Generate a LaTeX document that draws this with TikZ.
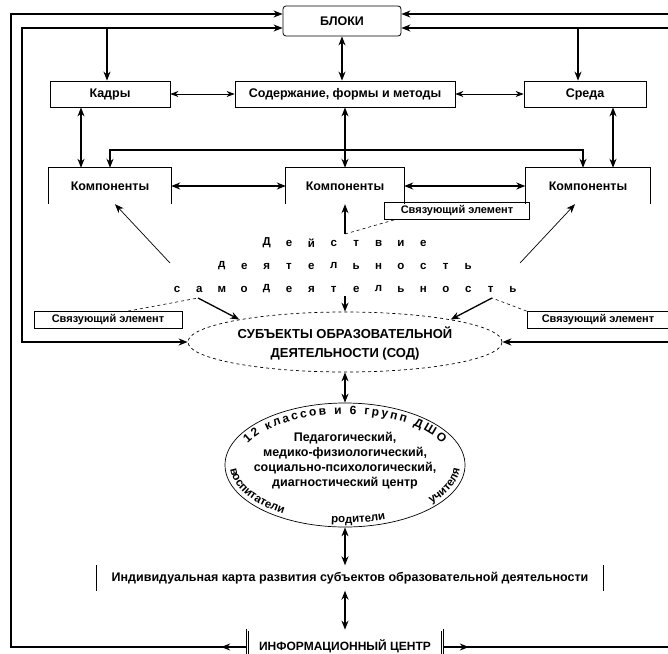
\documentclass[tikz,border=0pt]{standalone}
\usepackage{fontspec}
\setmainfont{Liberation Sans}
\usetikzlibrary{arrows.meta,shapes.geometric,decorations.text}
\tikzset{
  kbox/.style={draw, line width=0.8pt, align=center, inner sep=0pt, minimum height=26pt, font=\bfseries\fontsize{12.5}{14}\selectfont},
  kblock/.style={kbox, rounded corners=3pt, minimum height=30pt},
  kcomp/.style={align=center, inner sep=0pt, minimum height=36pt, font=\bfseries\fontsize{12.5}{14}\selectfont},
  klink/.style={kbox, minimum height=17pt, font=\bfseries\fontsize{11}{13}\selectfont},
  kletter/.style={inner sep=0pt, font=\bfseries\fontsize{11.5}{13}\selectfont},
  ksubj/.style={ellipse, draw, dashed, line width=0.7pt, inner sep=0pt, minimum width=314pt, minimum height=60pt},
  kcentre/.style={ellipse, draw, line width=0.7pt, inner sep=0pt, minimum width=240pt, minimum height=124pt},
  ktitle/.style={align=center, inner sep=0pt, font=\bfseries\fontsize{13}{19}\selectfont},
  ktext/.style={align=center, inner sep=0pt, font=\bfseries\fontsize{12.5}{15}\selectfont},
  kcard/.style={inner sep=0pt, minimum width=506pt, minimum height=25pt, font=\bfseries\fontsize{12.5}{14}\selectfont},
  kinfo/.style={draw, double, double distance=1.5pt, line width=0.7pt, inner sep=0pt, minimum width=195pt, minimum height=34pt, font=\bfseries\fontsize{12}{14}\selectfont},
  kframe/.style={line width=1.5pt},
  flow/.style={-{Stealth[length=9pt, width=7pt]}, line width=1.3pt},
  dflow/.style={{Stealth[length=9pt, width=7pt]}-{Stealth[length=9pt, width=7pt]}, line width=1.3pt},
  tflow/.style={{Stealth[length=8pt, width=6pt]}-{Stealth[length=8pt, width=6pt]}, line width=0.7pt},
  lflow/.style={-{Stealth[length=9pt, width=7pt]}, line width=0.7pt},
  kdash/.style={dashed, line width=0.6pt},
}

\begin{document}
\begin{tikzpicture}[x=1pt, y=-1pt]
  \useasboundingbox (0,0) rectangle (668,653);
  \clip (0,0) rectangle (668,653);

  % upper blocks
  \node[kblock, minimum width=118pt] (blocks) at (342,21) {БЛОКИ};
  \node[kbox, minimum width=120pt] (kadry) at (110,94) {Кадры};
  \node[kbox, minimum width=220pt] (content) at (345,94) {Содержание, формы и методы};
  \node[kbox, minimum width=122pt] (sreda) at (585,94) {Среда};

  % components
  \node[kcomp, minimum width=122pt] (compl) at (110,186) {Компоненты};
  \node[kcomp, minimum width=118pt] (compm) at (345,186) {Компоненты};
  \node[kcomp, minimum width=125pt] (compr) at (588,186) {Компоненты};
  \foreach \n in {compl,compm,compr}
    \draw[line width=0.8pt] (\n.south west) |- (\n.north east) -- (\n.south east);

  % linking elements
  \node[klink, minimum width=145pt] (linkm) at (457,211) {Связующий элемент};
  \node[klink, minimum width=148pt] (linkl) at (108,320) {Связующий элемент};
  \node[klink, minimum width=142pt] (linkr) at (598,320) {Связующий элемент};

  % spaced words
  \foreach \l [count=\i] in {Д,е,й,с,т,в,и,е}
    \node[kletter] (act\i) at (266.6+22.4*\i-22.4,243) {\l};
  \foreach \l [count=\i] in {д,е,я,т,е,л,ь,н,о,с,т,ь}
    \node[kletter] (work\i) at (221.8+22.4*\i-22.4,266) {\l};
  \foreach \l [count=\i] in {с,а,м,о,д,е,я,т,е,л,ь,н,о,с,т,ь}
    \node[kletter] (self\i) at (177+22.4*\i-22.4,289) {\l};

  % subjects and centre
  \node[ksubj] (sod) at (345,342) {};
  \node[ktitle] (sodtext) at (345,343) {СУБЪЕКТЫ ОБРАЗОВАТЕЛЬНОЙ\\ДЕЯТЕЛЬНОСТИ (СОД)};
  \node[kcentre] (centre) at (345,465) {};
  \node[ktext] (centretext) at (345,461) {Педагогический,\\медико-физиологический,\\социально-психологический,\\диагностический центр};
  \path[decorate, decoration={text along path, text align={left indent=24pt, right indent=24pt, fit to path},
      text={|\bfseries\fontsize{12}{14}\selectfont|12 классов и 6 групп ДШО}}]
    ([xshift=-107pt]centre.center) arc[start angle=180, end angle=0, x radius=107pt, y radius=51pt];
  \path[decorate, decoration={text along path, text align={left indent=4pt, right indent=4pt, fit to path stretching spaces},
      text={|\bfseries\fontsize{11.5}{13}\selectfont|воспитатели родители учителя}}]
    ([xshift=-115pt]centre.center) arc[start angle=180, end angle=360, x radius=115pt, y radius=58pt];

  % card and information centre
  \node[kcard] (card) at (350,578) {Индивидуальная карта развития субъектов образовательной деятельности};
  \draw[line width=0.8pt] (card.north west) -- (card.south west) (card.north east) -- (card.south east);
  \node[kinfo] (info) at (345,647) {\raisebox{4pt}{ИНФОРМАЦИОННЫЙ ЦЕНТР}};

  % outer frame
  \coordinate (otl) at (11,14);
  \coordinate (obl) at (11,647);
  \coordinate (itl) at (22,28);
  \coordinate (ibl) at (22,342);
  \coordinate (otr) at (668,14);
  \coordinate (itr) at (668,28);
  \coordinate (isr) at (668,342);
  \coordinate (obr) at (668,647);
  \coordinate (kt) at (107,28);
  \coordinate (st) at (578,28);
  \draw[kframe, -{Stealth[length=9pt, width=7pt]}] (info.west) -- (obl) -- (otl) -- ([yshift=7pt]blocks.west);
  \draw[kframe, -{Stealth[length=9pt, width=7pt]}] (otr) -- ([yshift=7pt]blocks.east);
  \draw[kframe] (info.east) -- (obr);
  \draw[flow] (info.west) -- ++(-26,0);
  \draw[flow] (info.east) -- ++(26,0);
  \draw[kframe, {Stealth[length=9pt, width=7pt]}-{Stealth[length=9pt, width=7pt]}] ([yshift=-7pt]blocks.west) -- (itl) -- (ibl) -- (sod.west);
  \draw[kframe, -{Stealth[length=9pt, width=7pt]}] (itr) -- ([yshift=-7pt]blocks.east);
  \draw[kframe, -{Stealth[length=9pt, width=7pt]}] (isr) -- (sod.east);
  \draw[flow] (kt) -- (kt |- kadry.north);
  \draw[flow] (st) -- (st |- sreda.north);

  % upper connectors
  \draw[dflow] (blocks.south) -- (blocks.south |- content.north);
  \draw[tflow] (kadry) -- (content);
  \draw[tflow] (content) -- (sreda);
  \draw[dflow] ([xshift=-29pt]kadry.south) -- ([xshift=-29pt]kadry.south |- compl.north);
  \draw[dflow] (content) -- (compm);
  \draw[dflow] ([xshift=28pt]sreda.south) -- ([xshift=28pt]sreda.south |- compr.north);
  \coordinate (hub) at (345,150);
  \draw[flow] (hub) -| (compl.north);
  \draw[flow] (hub) -| ([xshift=-5pt]compr.north);
  \draw[dflow] (compl) -- (compm);
  \draw[dflow] (compm) -- (compr);

  % actions towards components and subjects
  \coordinate (dl) at (170,263);
  \coordinate (dr) at (520,263);
  \coordinate (um) at (345,234);
  \draw[lflow] (dl) -- ([xshift=5pt]compl.south);
  \draw[lflow] (dr) -- ([xshift=-13pt]compr.south);
  \draw[flow] (um) -- (compm.south);
  \draw[kdash] ([xshift=10pt]linkm.south west) -- (um);
  \coordinate (sl) at (198,298);
  \coordinate (sm) at (345,296);
  \coordinate (sr) at (492,298);
  \draw[flow] (sl) -- (sod.168);
  \draw[flow] (sm) -- (sod.north);
  \draw[flow] (sr) -- (sod.12);
  \draw[kdash] ([xshift=20pt]linkl.north) -- (sl);
  \draw[kdash] (linkr.north west) -- (sr);

  % lower connectors
  \draw[dflow] (sod) -- (centre);
  \draw[dflow] (centre.south) -- (centre.south |- card.north);
  \draw[dflow] (card.south -| info.north) -- (info.north);
\end{tikzpicture}
\end{document}
